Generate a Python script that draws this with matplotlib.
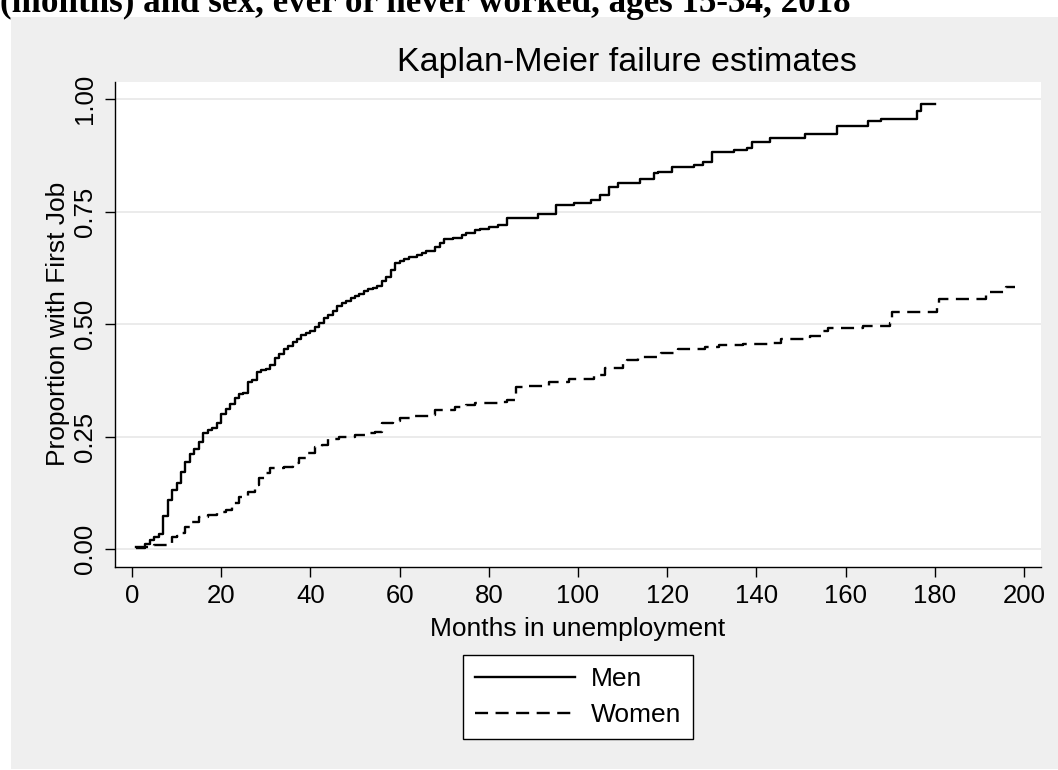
import matplotlib
matplotlib.use("Agg")
import matplotlib.pyplot as plt
from matplotlib.patches import Rectangle
from matplotlib.lines import Line2D

# Kaplan-Meier failure estimates: months in unemployment until first job
men_time = [1, 2, 3, 4, 5, 6, 7, 8, 9, 10, 11, 12, 13, 14, 15, 16, 17, 18, 19, 20,
            21, 22, 23, 24, 25, 26, 27, 28, 29, 30, 31, 32, 33, 34, 35, 36, 37, 38, 39, 40,
            41, 42, 43, 44, 45, 46, 47, 48, 49, 50, 51, 52, 53, 54, 55, 56, 57, 58, 59, 60,
            61, 62, 64, 65, 66, 68, 69, 70, 72, 74, 75, 77, 78, 80, 82, 84, 91, 95, 99, 103,
            105, 107, 109, 114, 117, 118, 121, 126, 128, 130, 135, 138, 139, 143, 151, 158,
            165, 168, 176, 177, 180]
men_fail = [0.005, 0.006, 0.012, 0.020, 0.028, 0.034, 0.074, 0.110, 0.132, 0.148, 0.172,
            0.193, 0.211, 0.222, 0.238, 0.259, 0.265, 0.270, 0.280, 0.300, 0.311, 0.322,
            0.335, 0.344, 0.348, 0.372, 0.377, 0.394, 0.398, 0.400, 0.409, 0.424, 0.433,
            0.444, 0.452, 0.461, 0.466, 0.476, 0.480, 0.485, 0.494, 0.502, 0.513, 0.520,
            0.530, 0.541, 0.548, 0.552, 0.557, 0.563, 0.568, 0.574, 0.578, 0.581, 0.584,
            0.595, 0.605, 0.620, 0.635, 0.640, 0.645, 0.649, 0.654, 0.658, 0.662, 0.672,
            0.680, 0.688, 0.692, 0.697, 0.703, 0.708, 0.712, 0.716, 0.720, 0.735, 0.745,
            0.765, 0.770, 0.775, 0.787, 0.804, 0.814, 0.822, 0.835, 0.838, 0.850, 0.853,
            0.861, 0.883, 0.887, 0.892, 0.905, 0.913, 0.922, 0.940, 0.951, 0.956, 0.974,
            0.988, 0.988]

women_time = [1, 2, 3, 5, 8, 9, 10, 11, 12, 13, 15, 17, 19, 21, 22.5, 24, 26, 27.5, 28.5,
              30, 31, 34, 36, 37.5, 39, 41, 42.5, 44, 46.5, 50, 52.5, 54.5, 56, 58.5, 60,
              63.5, 66.5, 68, 72.5, 75, 77, 82, 84, 86, 89, 93.5, 98, 103.5, 106, 110, 111,
              113.5, 118.5, 122.5, 128.5, 131.5, 137, 143.5, 145.5, 152, 154.5, 156, 164,
              170, 170.5, 180.5, 181, 191.5, 196, 198]
women_fail = [0.002, 0.004, 0.006, 0.010, 0.012, 0.027, 0.030, 0.036, 0.050, 0.061, 0.072,
              0.076, 0.083, 0.087, 0.102, 0.117, 0.128, 0.143, 0.158, 0.170, 0.180, 0.183,
              0.191, 0.202, 0.213, 0.228, 0.232, 0.246, 0.250, 0.254, 0.258, 0.261, 0.280,
              0.284, 0.291, 0.295, 0.298, 0.309, 0.317, 0.320, 0.324, 0.328, 0.331, 0.360,
              0.363, 0.372, 0.378, 0.387, 0.402, 0.413, 0.420, 0.426, 0.437, 0.444, 0.450,
              0.454, 0.456, 0.459, 0.466, 0.474, 0.485, 0.491, 0.496, 0.502, 0.528, 0.539,
              0.555, 0.571, 0.583, 0.583]

x_ticks = [0, 20, 40, 60, 80, 100, 120, 140, 160, 180, 200]
y_ticks = [0.0, 0.25, 0.5, 0.75, 1.0]
y_ticklabels = ["0.00", "0.25", "0.50", "0.75", "1.00"]

plt.rcParams["font.family"] = ["Liberation Sans", "DejaVu Sans"]
plt.rcParams["lines.scale_dashes"] = False
DASH = (9.4, 5.4)
LW = 1.7

W, H = 1058, 770
fig = plt.figure(figsize=(W / 100, H / 100), dpi=100, facecolor="white")

# light grey graph region
fig.patches.append(Rectangle((11 / W, 1 - 769 / H), (W - 11) / W, (769 - 17) / H,
                             transform=fig.transFigure, facecolor="#efefef",
                             edgecolor="none", zorder=-10))

# caption running above the graph
fig.text(0.0 / W, 1 - 12 / H, "(months) and sex, ever or never worked, ages 15-34, 2018",
         family=["Liberation Serif", "DejaVu Serif"], weight="bold", fontsize=25.2,
         ha="left", va="baseline", color="black", zorder=-5)

left, right, top, bottom = 115, 1041, 81.7, 566.7
ax = fig.add_axes([left / W, 1 - bottom / H, (right - left) / W, (bottom - top) / H])
ax.set_facecolor("white")

ax.step(men_time, men_fail, where="post", color="black", lw=LW, label="Men")
ax.step(women_time, women_fail, where="post", color="black", lw=LW,
        dashes=DASH, label="Women")

ax.set_xlim(-3.8, 203.8)
ax.set_ylim(-0.0386, 1.0384)
ax.set_xticks(x_ticks)
ax.set_yticks(y_ticks)
ax.set_yticklabels(y_ticklabels, rotation=90, va="center")
ax.tick_params(axis="both", direction="out", length=7.2, width=1.0, color="black",
               labelsize=18.5)
ax.tick_params(axis="x", pad=5.5)
ax.tick_params(axis="y", pad=6)

ax.grid(axis="y", color="#e8e8e8", lw=1.2)
ax.set_axisbelow(True)
for s in ["top", "right"]:
    ax.spines[s].set_visible(False)
for s in ["left", "bottom"]:
    ax.spines[s].set_linewidth(1.0)
    ax.spines[s].set_color("black")

ax.set_xlabel("Months in unemployment", fontsize=19, labelpad=6)
ax.set_ylabel("Proportion with First Job", fontsize=19, labelpad=2)

fig.text(627 / W, 1 - 62 / H, "Kaplan-Meier failure estimates", fontsize=24.5,
         ha="center", va="center")

handles = [Line2D([], [], color="black", lw=LW),
           Line2D([], [], color="black", lw=LW, dashes=DASH)]
leg = fig.legend(handles, ["Men", "Women"], loc="center",
                 bbox_to_anchor=(578 / W, 1 - 697 / H), fontsize=19,
                 frameon=True, fancybox=False, edgecolor="black", facecolor="white",
                 framealpha=1, handlelength=3.8, handletextpad=0.6, borderpad=0.45,
                 labelspacing=0.45, borderaxespad=0)
leg.get_frame().set_linewidth(1.0)

fig.savefig("out.png", dpi=100, facecolor="white")
